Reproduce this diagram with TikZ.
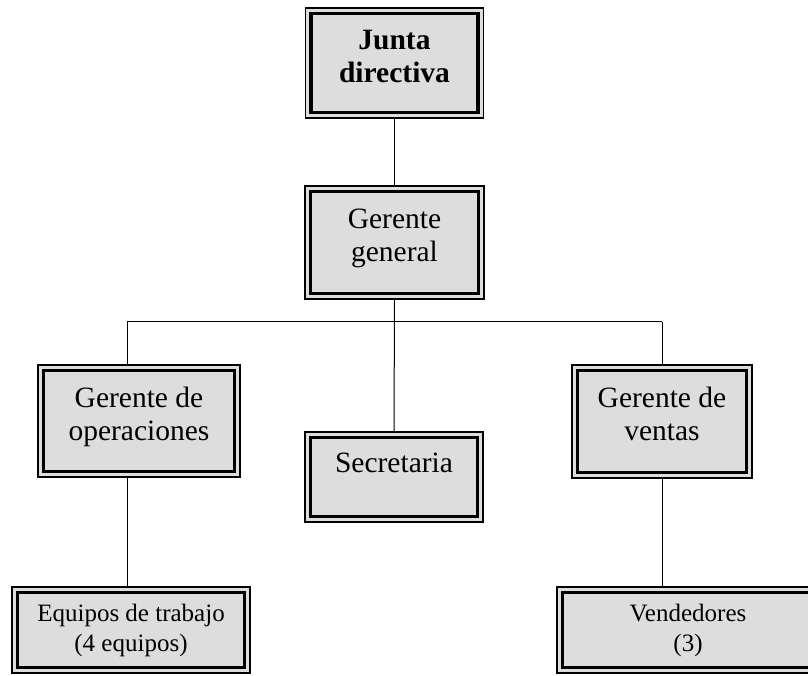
\documentclass[tikz,border=0pt]{standalone}
\usepackage{fontspec}
\setmainfont{Liberation Serif}

\definecolor{relleno}{HTML}{DDDDDD}

% invisible strut that lowers the bottom of the text block
\newcommand{\hondo}[1]{\rule[-#1]{0pt}{#1}}

\tikzset{
	caja/.style = {draw = black, line width = 1.8pt, fill = relleno, inner sep = 0pt, align = center,
		font = \fontsize{29.5}{33}\selectfont,
		path picture = {\draw [line width = 3.5pt]
			([shift = {(5.5pt, -5.5pt)}] path picture bounding box.north west) rectangle
			([shift = {(-5.5pt, 5.5pt)}] path picture bounding box.south east);}},
	cajita/.style = {caja, font = \fontsize{25}{30}\selectfont},
	linea/.style = {line width = 1pt}
}

\begin{document}
\begin{tikzpicture}[x = 1pt, y = -1pt]

	\useasboundingbox (0, 0) rectangle (808, 675);

	% Junta directiva and gerente general
	
	\node [caja, minimum width = 178pt, minimum height = 110pt] (junta) at (394.5, 63) {\textbf{Junta}\\\textbf{directiva}\hondo{13pt}};
	\node [caja, minimum width = 179pt, minimum height = 113pt] (general) at (394.5, 242.5) {Gerente\\general\hondo{14pt}};
	
	% Second level
	
	\node [caja, minimum width = 202pt, minimum height = 112pt] (operaciones) at (139, 421) {Gerente de\\operaciones\hondo{15pt}};
	\node [caja, minimum width = 178pt, minimum height = 90pt] (secretaria) at (394, 477) {Secretaria\hondo{28pt}};
	\node [caja, minimum width = 180pt, minimum height = 113pt] (ventas) at (662, 421.5) {Gerente de\\ventas\hondo{16pt}};
	
	% Third level
	
	\node [cajita, minimum width = 238pt, minimum height = 86pt] (equipos) at (131, 630) {Equipos de trabajo\\(4 equipos)};
	\node [cajita, minimum width = 262pt, minimum height = 86pt] (vendedores) at (688, 630) {Vendedores\\(3)};
	
	% Connectors
	
	\coordinate (busL) at (127.3, 321.5);
	\coordinate (busR) at (662, 321.5);
	
	\draw [linea] (junta.south) -- (general.north);
	\draw [linea] (general.south) -- (secretaria.north);
	\draw [linea] (busL) -- (busR);
	\draw [linea] (busL) -- (busL |- operaciones.north);
	\draw [linea] (busR) -- (ventas.north);
	\draw [linea] (busL |- operaciones.south) -- (busL |- equipos.north);
	\draw [linea] (ventas.south) -- (ventas.south |- vendedores.north);

\end{tikzpicture}
\end{document}
